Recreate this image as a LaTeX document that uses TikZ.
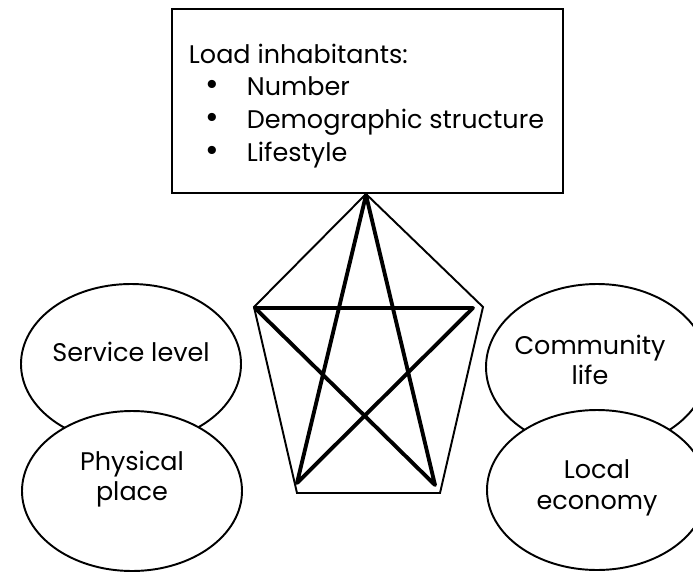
\documentclass[tikz,border=0pt]{standalone}
\usepackage{fontspec}
\usepackage{graphicx}
\setmainfont{Poppins}
\usetikzlibrary{shapes.geometric}
\newcommand{\pt}[1]{\makebox[1.16cm][l]{\hspace{0.34cm}\scalebox{1.3}{\textbullet}}#1}
\begin{document}
\begin{tikzpicture}
    % Define styles
    \tikzstyle{blob} = [draw, ellipse, line width=1.1pt, fill=white, minimum width=4.4cm, minimum height=3.2cm, inner sep=0pt]
    \tikzstyle{tag} = [align=center, font=\fontsize{14.5}{17.5}\selectfont]
    \tikzstyle{rim} = [line width=1.1pt, line join=miter]
    \tikzstyle{spoke} = [line width=2.2pt, line join=round]

    \clip (0,0) rectangle (13.86,11.42);

    % Load box
    \node[draw, line width=1.1pt, minimum width=7.82cm, minimum height=3.68cm] (load) at (7.35, 9.4) {};
    \node[align=left, font=\fontsize{14.5}{18.7}\selectfont] (load text) at ([xshift=-0.02cm, yshift=-0.1cm]load.center) {Load inhabitants:\\ \pt{Number}\\ \pt{Demographic structure}\\ \pt{Lifestyle}};

    % Pentagon corners
    \coordinate (p1) at (7.32, 7.54);
    \coordinate (p2) at (9.66, 5.28);
    \coordinate (p3) at (8.80, 1.56);
    \coordinate (p4) at (5.94, 1.56);
    \coordinate (p5) at (5.08, 5.28);
    % Star points
    \coordinate (s1) at (7.32, 7.52);
    \coordinate (s2) at (9.46, 5.26);
    \coordinate (s3) at (8.70, 1.72);
    \coordinate (s4) at (5.94, 1.76);
    \coordinate (s5) at (5.10, 5.26);

    \draw[rim] (p1) -- (p2) -- (p3) -- (p4) -- (p5) -- cycle;
    \draw[spoke] (s1) -- (s4) -- (s2) -- (s5) -- (s3) -- cycle;

    % Ellipses
    \node[blob] (service) at (2.62, 4.14) {};
    \node[blob] (place) at (2.64, 1.6) {};
    \node[blob, minimum width=4.44cm, minimum height=3.32cm] (community) at (11.94, 4.08) {};
    \node[blob] (economy) at (11.94, 1.62) {};

    \node[tag] (service label) at ([yshift=0.24cm]service.center) {Service level};
    \node[tag] (place label) at ([yshift=0.24cm]place.center) {Physical\\place};
    \node[tag] (community label) at ([xshift=-0.14cm, yshift=0.14cm]community.center) {Community\\life};
    \node[tag] (economy label) at ([yshift=0.04cm]economy.center) {Local\\economy};
\end{tikzpicture}
\end{document}
